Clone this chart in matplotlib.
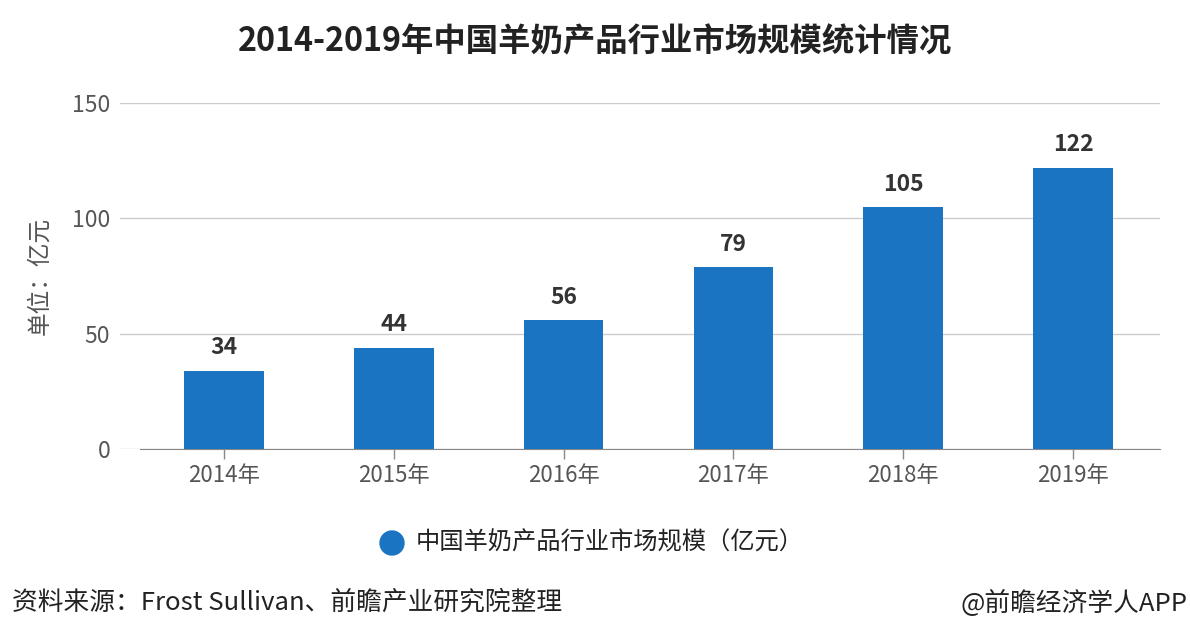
import matplotlib
matplotlib.use("Agg")
import matplotlib.pyplot as plt

plt.rcParams['font.family'] = ['Noto Sans CJK SC', 'DejaVu Sans']

# data
years = ["2014年", "2015年", "2016年", "2017年", "2018年", "2019年"]
market_size = [34, 44, 56, 79, 105, 122]
yticks = [0, 50, 100, 150]

bar_color = "#1a74c2"

fig = plt.figure(figsize=(11.9, 6.44), dpi=100)
ax = fig.add_axes([120 / 1190, 195 / 644, 1040 / 1190, 346 / 644])

x = list(range(len(years)))
ax.bar(x, market_size, width=0.47, color=bar_color, zorder=3)

for xi, v in zip(x, market_size):
    ax.annotate(str(v), (xi, v), xytext=(0, 8), textcoords="offset points",
                ha="center", va="bottom", fontsize=16.5, fontweight="bold",
                color="#333333")

ax.set_xlim(-0.61, 5.51)
ax.set_ylim(0, 150)
ax.set_yticks(yticks)
ax.set_xticks(x)
ax.set_xticklabels(years)
ax.tick_params(axis="y", length=0, pad=7, labelsize=16.5, labelcolor="#555555")
ax.tick_params(axis="x", length=7, width=1, color="#888888", pad=4,
               labelsize=16, labelcolor="#555555")
ax.grid(axis="y", color="#cccccc", linewidth=1, zorder=0)
for s in ["top", "right", "left"]:
    ax.spines[s].set_visible(False)
ax.spines["bottom"].set_color("#888888")
ax.spines["bottom"].set_bounds(-0.49, 5.51)

fig.text(40 / 1190, 1 - 276 / 644, "单位：亿元", rotation=90, ha="center",
         va="center", fontsize=17, color="#555555")

fig.text(0.5, 1 - 42 / 644, "2014-2019年中国羊奶产品行业市场规模统计情况",
         ha="center", va="center", fontsize=23.3, fontweight="bold",
         color="#222222")

# legend
fig.patches.append(matplotlib.patches.Ellipse((392 / 1190, 1 - 543 / 644),
                   24 / 1190, 24 / 644, transform=fig.transFigure,
                   color=bar_color))
fig.text(416 / 1190, 1 - 543 / 644, "中国羊奶产品行业市场规模（亿元）",
         ha="left", va="center", fontsize=17.5, color="#222222")

fig.text(12 / 1190, 1 - 603 / 644, "资料来源：Frost Sullivan、前瞻产业研究院整理",
         ha="left", va="center", fontsize=18.5, color="#222222")
fig.text(1188 / 1190, 1 - 603 / 644, "@前瞻经济学人APP",
         ha="right", va="center", fontsize=18.5, color="#222222")

fig.savefig("out.png", dpi=100, facecolor="white")
